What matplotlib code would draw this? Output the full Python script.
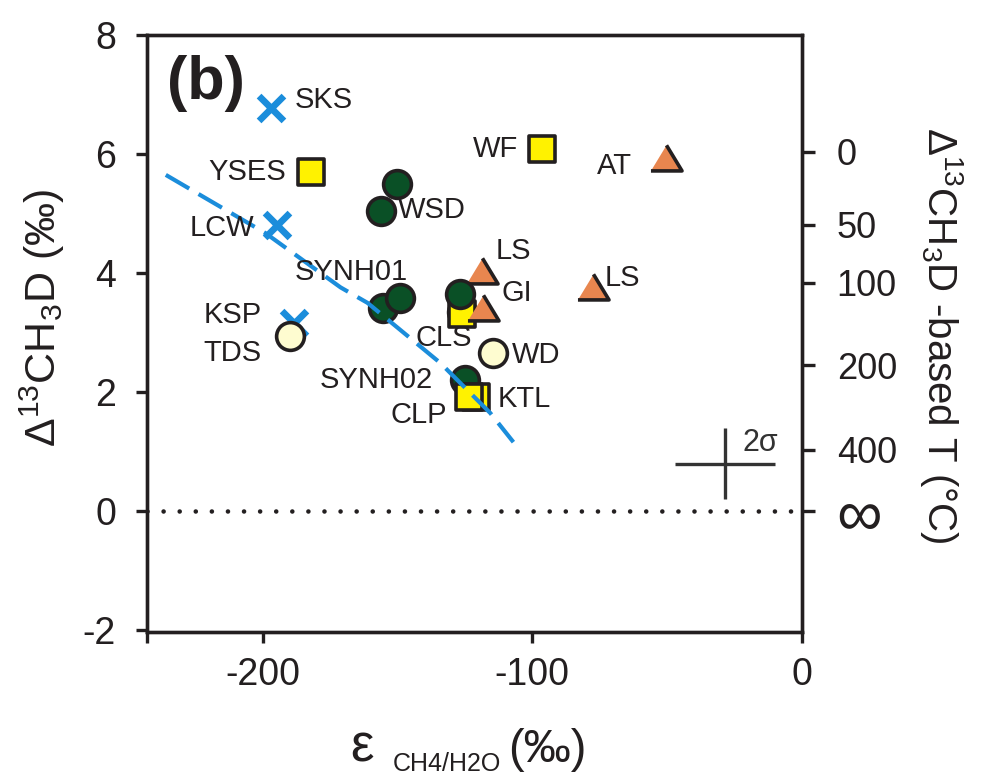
import matplotlib
matplotlib.use("Agg")
import matplotlib.pyplot as plt

plt.rcParams["font.family"] = ["Liberation Sans", "DejaVu Sans"]
plt.rcParams["mathtext.fontset"] = "custom"
plt.rcParams["mathtext.rm"] = "Liberation Sans"
plt.rcParams["mathtext.it"] = "Liberation Sans:italic"
plt.rcParams["mathtext.bf"] = "Liberation Sans:bold"
plt.rcParams["axes.unicode_minus"] = False

# epsilon CH4/H2O (permil) against clumped Delta13CH3D (permil)
cross_x = [-196.8, -194.6, -188.5]            # SKS, LCW, KSP
cross_y = [6.78, 4.81, 3.16]
green_x = [-150.1, -156.0, -155.4, -149.1, -126.1, -124.8]   # WSD x2, SYNH01 x2, CLS, SYNH02
green_y = [5.50, 5.05, 3.41, 3.59, 3.35, 2.21]
square_x = [-182.2, -96.4, -126.0, -120.7, -123.3]           # YSES, WF, CLS, KTL, CLP
square_y = [5.70, 6.08, 3.32, 1.92, 1.92]
gi_x = [-126.7]
gi_y = [3.65]
pale_x = [-189.9, -114.7]                      # TDS, WD
pale_y = [2.94, 2.65]
tri_x = [-50.4, -118.6, -118.3, -77.5]         # AT, LS, GI, LS
tri_y = [5.93, 4.04, 3.41, 3.77]

# equilibrium trend
curve_x = [-235.9, -198.9, -171.1, -161.1, -134.1, -115.6, -107.0]
curve_y = [5.65, 4.67, 3.76, 3.50, 2.49, 1.65, 1.16]

# 2 sigma analytical uncertainty
err_x, err_y = -28.5, 0.80
err_dx, err_dy = 18.5, 0.60

# temperature scale on the right axis
temp_labels = ["0", "50", "100", "200", "400", "\u221e"]
temp_delta = [6.04, 4.81, 3.84, 2.45, 1.03, 0.0]

site_names = ["SKS", "YSES", "LCW", "SYNH01", "WSD", "WF", "AT", "LS", "GI", "LS",
              "WD", "KTL", "KSP", "TDS", "CLS", "SYNH02", "CLP"]
name_pos = [(-188.1, 6.91), (-220.0, 5.70), (-227.0, 4.76), (-188.1, 4.02),
            (-150.0, 5.06), (-121.9, 6.08), (-75.9, 5.80), (-113.7, 4.37),
            (-111.5, 3.66), (-73.0, 3.92), (-107.4, 2.62), (-113.0, 1.88),
            (-221.9, 3.29), (-221.9, 2.66), (-143.3, 2.91), (-178.9, 2.20),
            (-152.6, 1.61)]

ink = "#231f20"
blue = "#1b8ddb"
tri = [(-1, -0.8), (1, -0.8), (0, 0.85)]

fig = plt.figure(figsize=(9.81, 7.75), dpi=100)
ax = fig.add_axes([0.1495, 0.1845, 0.668, 0.7703])

ax.scatter(cross_x, cross_y, marker="x", s=320, linewidths=4.8, color=blue, zorder=3)
ax.scatter(green_x, green_y, marker="o", s=400, facecolor="#0a5026", edgecolor=ink,
           linewidths=2.6, zorder=4)
ax.scatter(pale_x, pale_y, marker="o", s=400, facecolor="#fefcd0", edgecolor=ink,
           linewidths=2.6, zorder=4)
ax.scatter(square_x, square_y, marker="s", s=330, facecolor="#fff200", edgecolor=ink,
           linewidths=2.6, zorder=5)
ax.scatter(gi_x, gi_y, marker="o", s=400, facecolor="#0a5026", edgecolor=ink,
           linewidths=2.6, zorder=6)
ax.scatter(tri_x, tri_y, marker=tri, s=500, facecolor="#e8864f", edgecolor=ink,
           linewidths=2.6, zorder=5)

ax.plot(curve_x, curve_y, color=blue, lw=3, dashes=(6.5, 2.6), zorder=7)
ax.axhline(0, color=ink, lw=3.3, linestyle=(0, (0.01, 3.5)),
           dash_capstyle="round", zorder=2)

ax.errorbar(err_x, err_y, xerr=err_dx, yerr=err_dy, fmt="none", ecolor="#333333",
            elinewidth=2.4, capsize=0)
ax.text(-21.9, 1.14, "2\u03c3", fontsize=22, color="#333333", ha="left", va="center")

for name, (tx, ty) in zip(site_names, name_pos):
    ax.text(tx, ty, name, fontsize=21, color=ink, ha="left", va="center", zorder=8)

ax.text(-235.6, 7.18, "(b)", fontsize=44, fontweight="bold", color=ink,
        ha="left", va="center")

ax.set_xlim(-243, 0)
ax.set_ylim(-2.03, 8)
ax.set_xticks([-243, -200, -100, 0])
ax.set_xticklabels(["", "-200", "-100", "0"])
ax.set_yticks([-2, 0, 2, 4, 6, 8])
ax.set_yticklabels(["-2", "0", "2", "4", "6", "8"])
ax.tick_params(direction="out", length=8, width=2.4, labelsize=27, colors=ink)
ax.tick_params(axis="y", pad=14)
ax.tick_params(axis="x", pad=10)
for sp in ax.spines.values():
    sp.set_linewidth(2.4)
    sp.set_color(ink)

ax2 = ax.twinx()
ax2.set_ylim(ax.get_ylim())
ax2.set_yticks(temp_delta)
ax2.set_yticklabels(temp_labels)
ax2.tick_params(direction="out", length=9, width=2.4, labelsize=26, colors=ink, pad=16)
ax2.get_yticklabels()[-1].set_fontsize(46)
for sp in ax2.spines.values():
    sp.set_linewidth(2.4)
    sp.set_color(ink)

fig.text(42 / 981, 1 - 318 / 775, "\u0394$^{13}$CH$_3$D (\u2030)", fontsize=31,
         rotation=90, ha="center", va="center", color=ink)
fig.text(942 / 981, 1 - 335 / 775, "\u0394$^{13}$CH$_3$D -based T (\u00b0C)",
         fontsize=29, rotation=270, ha="center", va="center", color=ink)

fig.text(350 / 981, 1 - 762 / 775, "\u03b5", fontsize=38, ha="left", va="baseline", color=ink)
fig.text(393 / 981, 1 - 771 / 775, "CH4/H2O", fontsize=18, ha="left", va="baseline", color=ink)
fig.text(508 / 981, 1 - 762 / 775, "(\u2030)", fontsize=34, ha="left", va="baseline", color=ink)

fig.savefig("out.png", dpi=100)
